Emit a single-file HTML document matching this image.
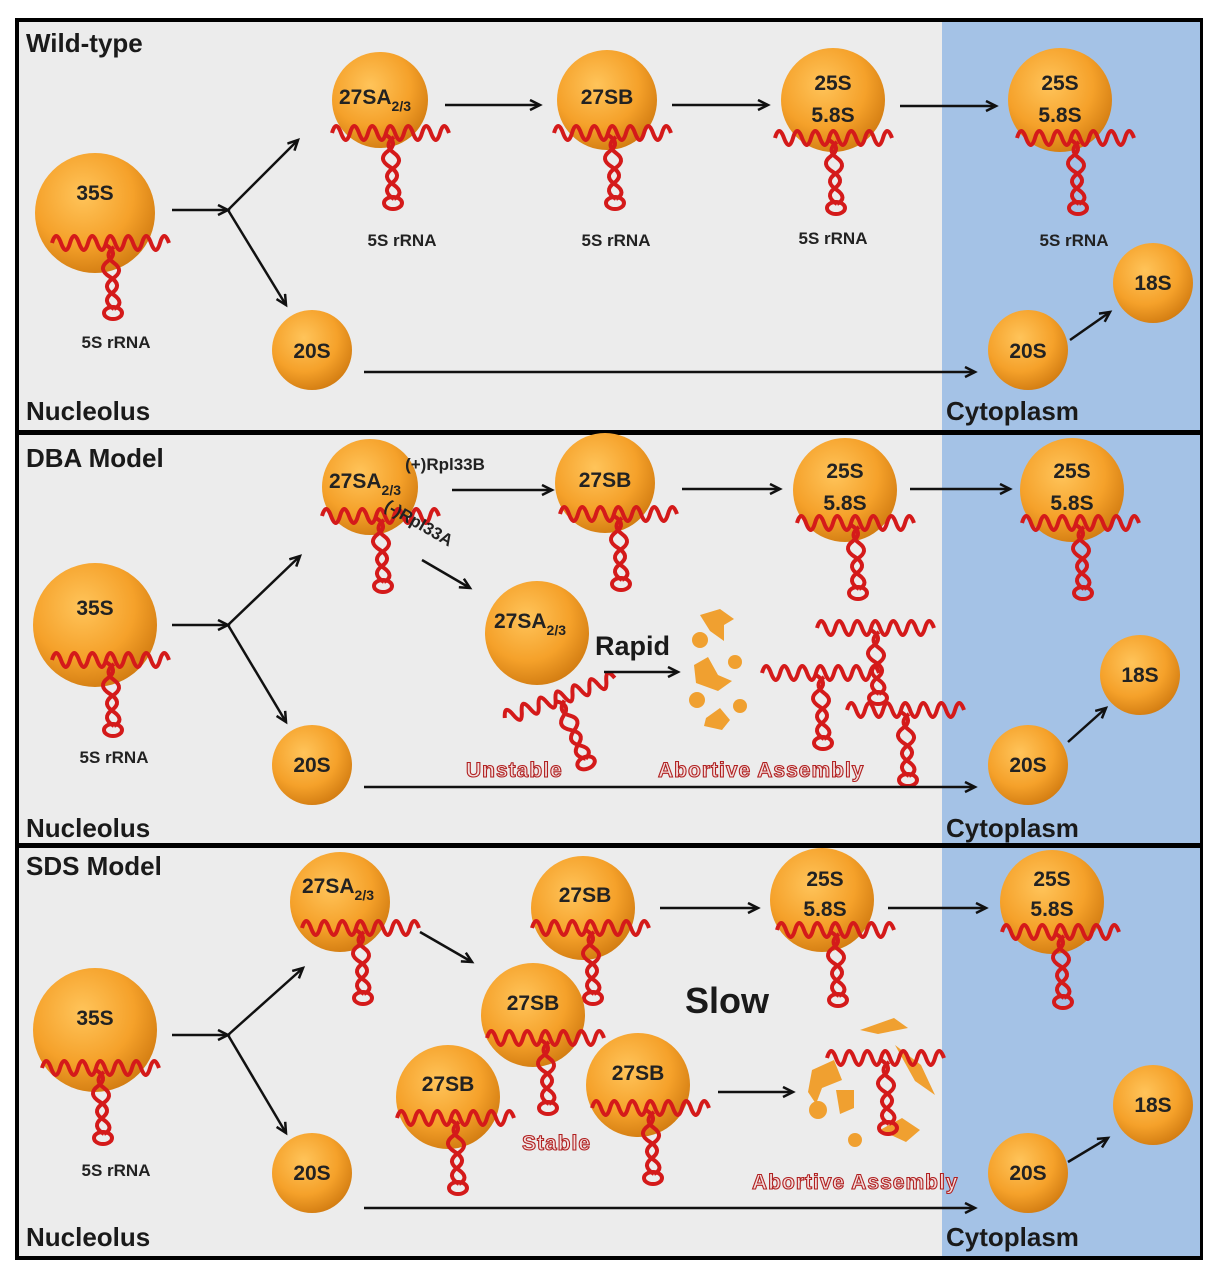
<!DOCTYPE html>
<html><head><meta charset="utf-8"><style>
html,body{margin:0;padding:0;background:#fff;}
svg{display:block;font-family:"Liberation Sans",sans-serif;}
.s{font-weight:bold;font-size:21px;fill:#222;text-anchor:middle;}
.r{font-weight:bold;font-size:17px;fill:#222;text-anchor:middle;}
.t{font-weight:bold;font-size:26px;fill:#1a1a1a;}
.red{font-weight:bold;font-size:21px;fill:#f3dede;stroke:#b02020;stroke-width:1.1;letter-spacing:1px;}
.a{stroke:#111;stroke-width:2.5;fill:none;marker-end:url(#ah);}
</style></head><body>
<svg width="1224" height="1280" viewBox="0 0 1224 1280" xmlns="http://www.w3.org/2000/svg">
<defs>
<radialGradient id="g" cx="0.4" cy="0.35" r="0.7">
<stop offset="0" stop-color="#ffc45a"/><stop offset="0.6" stop-color="#f5a12a"/><stop offset="1" stop-color="#d07a10"/>
</radialGradient>
<marker id="ah" markerWidth="14" markerHeight="14" refX="11" refY="6" orient="auto" markerUnits="userSpaceOnUse">
<path d="M1,1 L11,6 L1,11" fill="none" stroke="#111" stroke-width="2.5"/>
</marker>
<g id="rna" fill="none" stroke="#d41a1a" stroke-width="4" stroke-linejoin="round">
<path d="M-58,-2 q4,-14 9,0 t9,0 t9,0 t9,0 t9,0 t9,0 t9,0 t9,0 t9,0 t9,0 t9,0 t9,0 t9,0"/>
<path d="M-4,0 q13,8 2,16 q-11,8 2,16 q13,8 2,16 q-11,8 2,16 M4,2 q-11,8 0,16 q11,8 -2,16 q-11,8 2,16 q11,8 0,14"/>
<ellipse cx="3" cy="68" rx="9" ry="6"/>
</g>
</defs>
<rect x="15" y="18" width="1188" height="1242" fill="#000"/>
<rect x="19" y="22" width="923" height="408" fill="#ececec"/>
<rect x="942" y="22" width="258" height="408" fill="#a4c2e6"/>
<rect x="19" y="435" width="923" height="408" fill="#ececec"/>
<rect x="942" y="435" width="258" height="408" fill="#a4c2e6"/>
<rect x="19" y="848" width="923" height="408" fill="#ececec"/>
<rect x="942" y="848" width="258" height="408" fill="#a4c2e6"/>

<!-- Panel 1 -->
<text class="t" x="26" y="52">Wild-type</text>
<text class="t" x="26" y="420">Nucleolus</text>
<text class="t" x="946" y="420">Cytoplasm</text>
<circle cx="95" cy="213" r="60" fill="url(#g)"/><text class="s" x="95" y="200" font-size="26">35S</text><use href="#rna" x="110" y="245"/>
<text class="r" x="116" y="348">5S rRNA</text>
<path class="a" d="M172,210 L228,210"/><path class="a" d="M228,210 L298,140"/><path class="a" d="M228,210 L286,305"/>
<circle cx="380" cy="100" r="48" fill="url(#g)"/><text class="s" x="375" y="104">27SA<tspan font-size="14" dy="7">2/3</tspan></text><use href="#rna" x="390" y="135"/>
<text class="r" x="402" y="246">5S rRNA</text>
<path class="a" d="M445,105 L540,105"/>
<circle cx="607" cy="100" r="50" fill="url(#g)"/><text class="s" x="607" y="104">27SB</text><use href="#rna" x="612" y="135"/>
<text class="r" x="616" y="246">5S rRNA</text>
<path class="a" d="M672,105 L768,105"/>
<circle cx="833" cy="100" r="52" fill="url(#g)"/><text class="s" x="833" y="90">25S</text><text class="s" x="833" y="122">5.8S</text><use href="#rna" x="833" y="140"/>
<text class="r" x="833" y="244">5S rRNA</text>
<path class="a" d="M900,106 L996,106"/>
<circle cx="1060" cy="100" r="52" fill="url(#g)"/><text class="s" x="1060" y="90">25S</text><text class="s" x="1060" y="122">5.8S</text><use href="#rna" x="1075" y="140"/>
<text class="r" x="1074" y="246">5S rRNA</text>
<circle cx="312" cy="350" r="40" fill="url(#g)"/><text class="s" x="312" y="358">20S</text>
<path class="a" d="M364,372 L975,372"/>
<circle cx="1028" cy="350" r="40" fill="url(#g)"/><text class="s" x="1028" y="358">20S</text>
<path class="a" d="M1070,340 L1110,312"/>
<circle cx="1153" cy="283" r="40" fill="url(#g)"/><text class="s" x="1153" y="290">18S</text>

<!-- Panel 2 -->
<text class="t" x="26" y="467">DBA Model</text>
<text class="t" x="26" y="837">Nucleolus</text>
<text class="t" x="946" y="837">Cytoplasm</text>
<circle cx="95" cy="625" r="62" fill="url(#g)"/><text class="s" x="95" y="615" font-size="26">35S</text><use href="#rna" x="110" y="662"/>
<text class="r" x="114" y="763">5S rRNA</text>
<path class="a" d="M172,625 L228,625"/><path class="a" d="M228,625 L300,556"/><path class="a" d="M228,625 L286,722"/>
<circle cx="370" cy="487" r="48" fill="url(#g)"/><text class="s" x="365" y="488">27SA<tspan font-size="14" dy="7">2/3</tspan></text><use href="#rna" x="380" y="518"/>
<text class="r" x="445" y="470" font-size="18" text-anchor="start">(+)Rpl33B</text>
<path class="a" d="M452,490 L552,490"/>
<text class="r" x="416" y="528" font-size="18" text-anchor="start" transform="rotate(30 416 528)">(-)Rpl33A</text>
<path class="a" d="M422,560 L470,588"/>
<circle cx="605" cy="483" r="50" fill="url(#g)"/><text class="s" x="605" y="487">27SB</text><use href="#rna" x="618" y="516"/>
<path class="a" d="M682,489 L780,489"/>
<circle cx="845" cy="490" r="52" fill="url(#g)"/><text class="s" x="845" y="478">25S</text><text class="s" x="845" y="510">5.8S</text><use href="#rna" x="855" y="525"/>
<path class="a" d="M910,489 L1010,489"/>
<circle cx="1072" cy="490" r="52" fill="url(#g)"/><text class="s" x="1072" y="478">25S</text><text class="s" x="1072" y="510">5.8S</text><use href="#rna" x="1080" y="525"/>
<circle cx="537" cy="633" r="52" fill="url(#g)"/><text class="s" x="530" y="628">27SA<tspan font-size="14" dy="7">2/3</tspan></text>
<use href="#rna" x="560" y="700" transform="rotate(-20 560 700)"/>
<text x="595" y="655" font-weight="bold" font-size="27" fill="#1a1a1a">Rapid</text>
<path class="a" d="M604,672 L678,672"/>
<g fill="#f0a030"><path d="M700,615 l20,-6 l14,10 l-10,6 l0,16 l-14,-10 z"/><circle cx="700" cy="640" r="8"/><path d="M694,665 l14,-8 l10,18 l14,6 l-14,10 l-22,-8 z"/><circle cx="735" cy="662" r="7"/><circle cx="697" cy="700" r="8"/><circle cx="740" cy="706" r="7"/><path d="M706,718 l14,-10 l10,12 l-8,10 l-18,-4 z"/></g>
<use href="#rna" x="820" y="675"/><use href="#rna" x="875" y="630"/><use href="#rna" x="905" y="712"/>
<text class="red" x="466" y="777">Unstable</text>
<text class="red" x="658" y="777">Abortive Assembly</text>
<circle cx="312" cy="765" r="40" fill="url(#g)"/><text class="s" x="312" y="772">20S</text>
<path class="a" d="M364,787 L975,787"/>
<circle cx="1028" cy="765" r="40" fill="url(#g)"/><text class="s" x="1028" y="772">20S</text>
<path class="a" d="M1068,742 L1106,708"/>
<circle cx="1140" cy="675" r="40" fill="url(#g)"/><text class="s" x="1140" y="682">18S</text>

<!-- Panel 3 -->
<text class="t" x="26" y="875">SDS Model</text>
<text class="t" x="26" y="1246">Nucleolus</text>
<text class="t" x="946" y="1246">Cytoplasm</text>
<circle cx="95" cy="1030" r="62" fill="url(#g)"/><text class="s" x="95" y="1025" font-size="26">35S</text><use href="#rna" x="100" y="1070"/>
<text class="r" x="116" y="1176">5S rRNA</text>
<path class="a" d="M172,1035 L228,1035"/><path class="a" d="M228,1035 L303,968"/><path class="a" d="M228,1035 L286,1133"/>
<circle cx="340" cy="902" r="50" fill="url(#g)"/><text class="s" x="338" y="893">27SA<tspan font-size="14" dy="7">2/3</tspan></text><use href="#rna" x="360" y="930"/>
<path class="a" d="M420,932 L472,962"/>
<circle cx="583" cy="908" r="52" fill="url(#g)"/><text class="s" x="585" y="902">27SB</text><use href="#rna" x="590" y="930"/>
<path class="a" d="M660,908 L758,908"/>
<circle cx="822" cy="900" r="52" fill="url(#g)"/><text class="s" x="825" y="886">25S</text><text class="s" x="825" y="916">5.8S</text><use href="#rna" x="835" y="932"/>
<path class="a" d="M888,908 L986,908"/>
<circle cx="1052" cy="902" r="52" fill="url(#g)"/><text class="s" x="1052" y="886">25S</text><text class="s" x="1052" y="916">5.8S</text><use href="#rna" x="1060" y="934"/>
<circle cx="533" cy="1015" r="52" fill="url(#g)"/><text class="s" x="533" y="1010">27SB</text><use href="#rna" x="545" y="1040"/>
<circle cx="448" cy="1097" r="52" fill="url(#g)"/><text class="s" x="448" y="1091">27SB</text><use href="#rna" x="455" y="1120"/>
<circle cx="638" cy="1085" r="52" fill="url(#g)"/><text class="s" x="638" y="1080">27SB</text><use href="#rna" x="650" y="1110"/>
<text x="685" y="1013" font-weight="bold" font-size="36" fill="#1a1a1a">Slow</text>
<text class="red" x="522" y="1150">Stable</text>
<path class="a" d="M718,1092 L793,1092"/>
<g fill="#f0a030"><path d="M812,1070 l22,-10 l8,20 l-20,8 l-6,16 l-8,-12 z"/><path d="M860,1030 l34,-12 l14,10 l-30,6 z"/><path d="M895,1045 l26,20 l14,30 l-20,-14 z"/><circle cx="818" cy="1110" r="9"/><path d="M836,1090 l18,0 l0,18 l-14,6 z"/><path d="M880,1130 l22,-12 l18,12 l-14,12 z"/><circle cx="855" cy="1140" r="7"/></g>
<use href="#rna" x="885" y="1060"/>
<text class="red" x="752" y="1189">Abortive Assembly</text>
<circle cx="312" cy="1173" r="40" fill="url(#g)"/><text class="s" x="312" y="1180">20S</text>
<path class="a" d="M364,1208 L975,1208"/>
<circle cx="1028" cy="1173" r="40" fill="url(#g)"/><text class="s" x="1028" y="1180">20S</text>
<path class="a" d="M1068,1162 L1108,1138"/>
<circle cx="1153" cy="1105" r="40" fill="url(#g)"/><text class="s" x="1153" y="1112">18S</text>
</svg>
</body></html>
